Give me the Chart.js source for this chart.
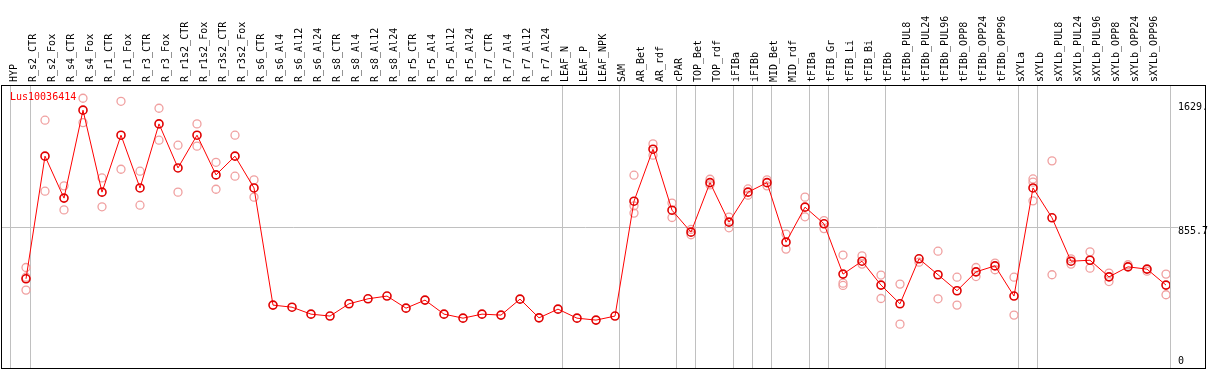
<!DOCTYPE html>
<html>
<head>
<meta charset="utf-8">
<script src="https://cdn.jsdelivr.net/npm/chart.js@4.4.0/dist/chart.umd.min.js"></script>
<style>
  html, body { margin: 0; padding: 0; background: #fff; }
  #wrap { width: 1209px; height: 370px; }
</style>
</head>
<body>
<div id="wrap"><canvas id="grafico"></canvas></div>
<script>
// nome do gene
const titulo = 'Lus10036414';

// amostras (eixo de cima)
const categorias = [
  'HYP', 'R_s2_CTR', 'R_s2_Fox', 'R_s4_CTR', 'R_s4_Fox', 'R_r1_CTR', 'R_r1_Fox',
  'R_r3_CTR', 'R_r3_Fox', 'R_r1s2_CTR', 'R_r1s2_Fox', 'R_r3s2_CTR', 'R_r3s2_Fox',
  'R_s6_CTR', 'R_s6_Al4', 'R_s6_Al12', 'R_s6_Al24', 'R_s8_CTR', 'R_s8_Al4',
  'R_s8_Al12', 'R_s8_Al24', 'R_r5_CTR', 'R_r5_Al4', 'R_r5_Al12', 'R_r5_Al24',
  'R_r7_CTR', 'R_r7_Al4', 'R_r7_Al12', 'R_r7_Al24', 'LEAF_N', 'LEAF_P', 'LEAF_NPK',
  'SAM', 'AR_Bet', 'AR_rdf', 'cPAR', 'TOP_Bet', 'TOP_rdf', 'iFIBa', 'iFIBb',
  'MID_Bet', 'MID_rdf', 'tFIBa', 'tFIB_Gr', 'tFIB_Li', 'tFIB_Bi', 'tFIBb',
  'tFIBb_PUL8', 'tFIBb_PUL24', 'tFIBb_PUL96', 'tFIBb_OPP8', 'tFIBb_OPP24', 'tFIBb_OPP96',
  'sXYLa', 'sXYLb', 'sXYLb_PUL8', 'sXYLb_PUL24', 'sXYLb_PUL96', 'sXYLb_OPP8',
  'sXYLb_OPP24', 'sXYLb_OPP96'
];

// média (linha vermelha)
const media = [
  539, 1299, 1039, 1584, 1076, 1429, 1102, 1499, 1226, 1429, 1183, 1299, 1102,
  376, 363, 320, 308, 384, 415, 432, 357, 407, 320, 295, 320, 314, 413, 297, 351,
  295, 283, 308,
  1020, 1342, 964, 828, 1135, 890, 1076, 1135, 766, 983, 880, 568, 648, 500,
  384, 663, 564, 465, 582, 619, 432,
  1102, 917, 648, 654, 551, 613, 599, 500
];

// réplicas (círculos rosados)
const rep1 = [
  609, 1522, 1115, 1658, 1164, 1639, 1206, 1596, 1367, 1499, 1261, 1429, 1152,
  null, null, null, null, null, null, null, null, null, null, null, null, null, null, null, null,
  null, null, null,
  1181, 1375, 1008, 845, 1156, 921, 1096, 1152, 816, 1045, 900, 686, 681, 562,
  506, 642, 710, 549, 609, 636, 549,
  1158, 1270, 663, 706, 574, 626, 586, 568
];
const rep2 = [
  469, 1082, 966, 1507, 985, 1218, 995, 1398, 1076, 1361, 1094, 1175, 1045,
  null, null, null, null, null, null, null, null, null, null, null, null, null, null, null, null,
  null, null, null,
  946, 1305, 919, 812, 1121, 855, 1057, 1115, 723, 923, 850, 498, 630, 417,
  258, null, 415, 376, 553, 595, 314,
  1022, 564, 630, 605, 522, null, null, 440
];
const rep3 = [
  549, null, null, null, null, null, null, null, null, null, null, null, null,
  null, null, null, null, null, null, null, null, null, null, null, null, null, null, null, null,
  null, null, null,
  991, null, null, null, null, null, null, null, null, null, null, 512, null, null,
  null, null, null, null, null, null, null,
  1138, null, null, null, null, null, null, null
];

// último índice de cada grupo (linhas verticais cinzas)
const fimGrupos = [-1.05, 0, 28, 31, 34, 35, 37, 38, 39, 41, 42, 45, 52, 53, 60];

// marcas do eixo y
const ticksY = [0, 855.7, 1629];
const rotulosY = ['0', '855.7', '1629.'];

const fonteMono = 'DejaVu Sans Mono';
const xMin = -25 / 19;
const xMax = 60 + 4 / 19;

function pontos(valores) {
  return valores.map((v, i) => ({ x: i, y: v }));
}

// moldura, título e rótulos do eixo y
const extras = {
  id: 'extras',
  afterDraw(chart) {
    const { ctx, chartArea } = chart;
    const y = chart.scales.y;
    ctx.save();
    ctx.strokeStyle = '#000';
    ctx.lineWidth = 1;
    ctx.strokeRect(chartArea.left + 0.5, chartArea.top + 0.5, 1205 - chartArea.left, chartArea.bottom - chartArea.top - 1);

    ctx.font = '10px ' + fonteMono;
    ctx.fillStyle = '#ff0000';
    ctx.textBaseline = 'middle';
    ctx.textAlign = 'left';
    ctx.fillText(titulo, chartArea.left + 9, chartArea.top + 12);

    ctx.fillStyle = '#000';
    ticksY.forEach((v, i) => {
      const py = y.getPixelForValue(v) + (v === 0 ? -4 : 4);
      ctx.fillText(rotulosY[i], 1178, py);
    });
    ctx.restore();
  }
};

const ctx = document.getElementById('grafico').getContext('2d');
const grafico = new Chart(ctx, {
  type: 'scatter',
  data: {
    datasets: [
      {
        label: 'media',
        data: pontos(media),
        showLine: true,
        borderColor: '#ff0000',
        borderWidth: 1,
        pointRadius: 4,
        pointBorderWidth: 1.6,
        pointBorderColor: '#e00000',
        pointBackgroundColor: 'rgba(0,0,0,0)',
        order: 0
      },
      ...[rep1, rep2, rep3].map((r, k) => ({
        label: 'rep' + (k + 1),
        data: pontos(r),
        showLine: false,
        pointRadius: 4,
        pointBorderWidth: 1.3,
        pointBorderColor: '#f0a0a0',
        pointBackgroundColor: 'rgba(0,0,0,0)',
        order: 1
      }))
    ]
  },
  options: {
    responsive: true,
    maintainAspectRatio: false,
    animation: false,
    layout: { autoPadding: false, padding: { left: 1, right: 1, top: 0, bottom: 1 } },
    plugins: {
      legend: { display: false },
      tooltip: { enabled: false }
    },
    scales: {
      x: {
        type: 'linear',
        position: 'top',
        min: xMin,
        max: xMax,
        afterBuildTicks: (scale) => {
          scale.ticks = categorias.map((c, i) => ({ value: i }));
        },
        afterFit: (scale) => { scale.height = 85; scale.paddingLeft = 0; scale.paddingRight = 0; },
        grid: { display: false, drawTicks: false },
        border: { display: false },
        ticks: {
          autoSkip: false,
          maxRotation: 90,
          minRotation: 90,
          padding: 3,
          color: '#000',
          font: { family: fonteMono, size: 10 },
          callback: (v) => categorias[v]
        }
      },
      xg: {
        type: 'linear',
        position: 'bottom',
        min: xMin,
        max: xMax,
        afterBuildTicks: (scale) => {
          scale.ticks = fimGrupos.map(k => ({ value: k + 0.25 }));
        },
        afterFit: (scale) => { scale.height = 0; },
        grid: { display: true, drawTicks: false, color: '#c0c0c0', lineWidth: 1 },
        border: { display: false },
        ticks: { display: false }
      },
      y: {
        position: 'right',
        min: -20,
        max: 1740,
        afterBuildTicks: (scale) => {
          scale.ticks = ticksY.map(v => ({ value: v }));
        },
        afterFit: (scale) => { scale.width = 38; },
        grid: {
          display: true,
          drawTicks: true,
          tickLength: 8,
          color: (c) => (c.tick && c.tick.value === 855.7 ? '#c0c0c0' : 'rgba(0,0,0,0)')
        },
        border: { display: false },
        ticks: { display: false }
      }
    }
  },
  plugins: [extras]
});
</script>
</body>
</html>
